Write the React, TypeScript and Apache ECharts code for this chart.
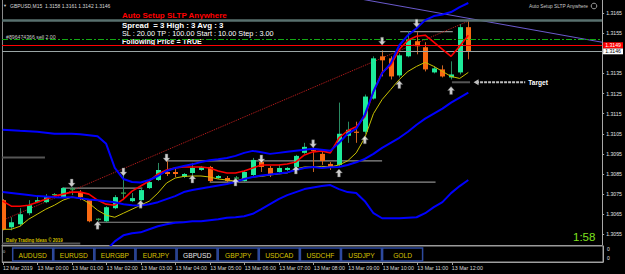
import React, { useEffect, useRef } from 'react';
import * as echarts from 'echarts';

// ---------- data ----------
const opens = [
  1.3072, 1.30585, 1.306, 1.30655, 1.3071, 1.3071, 1.30745, 1.30735, 1.30773, 1.3076,
  1.3072, 1.30623, 1.30615, 1.3068, 1.30753, 1.30715, 1.3072, 1.3078, 1.3082, 1.3086,
  1.3086, 1.30835, 1.30855, 1.3087, 1.30885, 1.3083, 1.3083, 1.30828, 1.30815, 1.30845,
  1.3091, 1.3088, 1.3086, 1.3087, 1.30885, 1.30955, 1.30975, 1.3095, 1.309, 1.30895,
  1.3104, 1.3106, 1.3106, 1.31225, 1.31435, 1.31425, 1.3134, 1.31435, 1.3151, 1.3148,
  1.31355, 1.3137, 1.3133, 1.31355, 1.3158,
];
const closes = [
  1.30575, 1.3061, 1.3065, 1.30695, 1.3072, 1.30735, 1.3075, 1.3078, 1.30777, 1.30735,
  1.30615, 1.30627, 1.30685, 1.30735, 1.30757, 1.3073, 1.3077, 1.3081, 1.3087, 1.3085,
  1.3085, 1.3085, 1.3088, 1.30885, 1.30815, 1.3084, 1.30815, 1.30832, 1.3086, 1.3092,
  1.30885, 1.3085, 1.3088, 1.3088, 1.3094, 1.30985, 1.30965, 1.30915, 1.30885, 1.3105,
  1.3107, 1.31055, 1.31235, 1.31425, 1.31415, 1.31335, 1.3144, 1.3152, 1.31485, 1.3137,
  1.31375, 1.31335, 1.31345, 1.3158, 1.3146,
];
const lows = [
  1.3057, 1.3057, 1.3059, 1.30645, 1.30705, 1.30705, 1.3074, 1.3073, 1.30745, 1.3072,
  1.3061, 1.30615, 1.3061, 1.30675, 1.3072, 1.3071, 1.30715, 1.30775, 1.30815, 1.3084,
  1.30835, 1.3083, 1.3084, 1.30865, 1.3081, 1.30825, 1.3081, 1.3082, 1.3081, 1.3084,
  1.3086, 1.30835, 1.30855, 1.30865, 1.3088, 1.3095, 1.3086, 1.30895, 1.3087, 1.30885,
  1.31005, 1.31005, 1.3105, 1.3122, 1.31335, 1.3132, 1.3133, 1.3143, 1.31445, 1.3136,
  1.3135, 1.3133, 1.3132, 1.31345, 1.3142,
];
const highs = [
  1.30725, 1.30635, 1.3068, 1.3072, 1.3074, 1.3075, 1.30755, 1.30785, 1.30785, 1.3077,
  1.30725, 1.3063, 1.3069, 1.30745, 1.30845, 1.30755, 1.3078, 1.3082, 1.30905, 1.30915,
  1.30875, 1.30855, 1.30905, 1.3089, 1.3089, 1.30845, 1.3084, 1.3084, 1.3087, 1.3093,
  1.3092, 1.3089, 1.30895, 1.30885, 1.30945, 1.31005, 1.30985, 1.3096, 1.3091, 1.31205,
  1.3111, 1.3111, 1.31245, 1.31435, 1.31465, 1.31435, 1.3145, 1.3156, 1.31555, 1.31505,
  1.31385, 1.3139, 1.3141, 1.31595, 1.3161,
];
const bbUpper = [
  1.3107, 1.31068, 1.31065, 1.31063, 1.3106, 1.31055, 1.3105, 1.3105, 1.3105, 1.31048,
  1.31043, 1.31038, 1.31, 1.3088, 1.30825, 1.3081, 1.30808, 1.3082, 1.3084, 1.30865,
  1.3088, 1.3089, 1.30898, 1.3091, 1.30918, 1.30923, 1.3093, 1.3094, 1.30955, 1.30965,
  1.30958, 1.3095, 1.30955, 1.3096, 1.30965, 1.3097, 1.30975, 1.3097, 1.30965, 1.31005,
  1.3105, 1.31075, 1.31145, 1.3126, 1.3135, 1.314, 1.3149, 1.3154, 1.31575, 1.31615,
  1.31635, 1.31643, 1.31655, 1.3168, 1.317,
];
const bbMiddle = [
  1.3076, 1.30755, 1.3075, 1.30745, 1.3074, 1.30738, 1.30735, 1.30733, 1.30735, 1.3073,
  1.30723, 1.3072, 1.30715, 1.3071, 1.307, 1.30695, 1.30693, 1.307, 1.3071, 1.30725,
  1.3074, 1.3076, 1.3077, 1.30778, 1.30785, 1.30793, 1.308, 1.3081, 1.30825, 1.30835,
  1.30843, 1.30848, 1.30853, 1.30858, 1.3087, 1.3088, 1.30885, 1.3088, 1.30883, 1.30885,
  1.30895, 1.30908, 1.30925, 1.3095, 1.3098, 1.31005, 1.3103, 1.3106, 1.31095, 1.31125,
  1.3115, 1.31175, 1.31205, 1.3123, 1.31255,
];
const bbLower = [
  1.3042, 1.3041, 1.3041, 1.3041, 1.30415, 1.3042, 1.3042, 1.3042, 1.3042, 1.30415,
  1.3041, 1.3044, 1.3047, 1.30515, 1.30545, 1.30555, 1.3056, 1.30575, 1.3059, 1.306,
  1.30608, 1.3061, 1.30615, 1.30615, 1.3062, 1.30625, 1.30633, 1.30635, 1.3064, 1.30652,
  1.30675, 1.307, 1.30725, 1.30745, 1.3076, 1.30775, 1.30783, 1.3079, 1.30795, 1.30775,
  1.3076, 1.30755, 1.30715, 1.30655, 1.3063, 1.3063, 1.3063, 1.30633, 1.30635, 1.30655,
  1.30685, 1.3071, 1.30755, 1.3079, 1.3082,
];
const maRed = [
  1.30715, 1.3069, 1.3069, 1.30695, 1.3071, 1.30725, 1.3074, 1.3075, 1.3076, 1.3076,
  1.3075, 1.3072, 1.307, 1.30695, 1.30725, 1.30765, 1.3079, 1.30815, 1.3085, 1.3087,
  1.3088, 1.30885, 1.30885, 1.30885, 1.3088, 1.30865, 1.30855, 1.30855, 1.30865, 1.3088,
  1.30895, 1.30895, 1.30895, 1.309, 1.3091, 1.30945, 1.3096, 1.30965, 1.30955, 1.3103,
  1.31065, 1.31085, 1.31135, 1.3126, 1.31355, 1.3139, 1.3147, 1.31515, 1.31535, 1.3154,
  1.31505, 1.3147, 1.31435, 1.31485, 1.3154,
];
const maYellow = [
  1.30575, 1.30575, 1.3059, 1.30625, 1.3065, 1.30675, 1.30695, 1.3072, 1.30735, 1.3073,
  1.30705, 1.3067, 1.30645, 1.30635, 1.30655, 1.30675, 1.30695, 1.30715, 1.30755, 1.30805,
  1.3083, 1.30838, 1.3084, 1.3084, 1.30835, 1.30825, 1.3082, 1.30815, 1.30828, 1.30835,
  1.30838, 1.30845, 1.3085, 1.30855, 1.30875, 1.30885, 1.30885, 1.30888, 1.30885, 1.30895,
  1.30915, 1.30955, 1.3103, 1.3115, 1.3122, 1.3127, 1.3132, 1.3136, 1.31385, 1.31405,
  1.31385, 1.3136, 1.31335, 1.31325, 1.31355,
];
const downArrows = [[8, 1.30805], [14, 1.3086], [19, 1.3093], [30, 1.30925], [36, 1.31], [44, 1.3151], [48, 1.316]];
const upArrows = [[11, 1.30595], [16, 1.307], [22, 1.30825], [27, 1.3081], [34, 1.3087], [39, 1.30855], [42, 1.3102], [46, 1.31295], [52, 1.31265]];
// [fromBar, toBar, price]
const lightSegments = [[6.9, 16.2, 1.3078], [11, 21.1, 1.3061], [19, 44, 1.30915], [24, 50.2, 1.3081], [46.1, 52.2, 1.31558]];
const darkSegments = [[-0.1, 4.9, 1.30932], [-0.1, 9.0, 1.30505], [52.1, 54.2, 1.31306]];
const redTrend = [[0, 1.3062], [54, 1.3161]];
const slateTrend = [[41.5, 1.3172], [69.52, 1.31505]];
const targetLine = [[54.9, 1.31306], [60.6, 1.31306]];
const tealLevel = 1.31615;
const greenLevel = 1.3152;
const redLevel = 1.3149;
const bidLevel = 1.3146;
const priceTicks = [1.3055, 1.3065, 1.3075, 1.3085, 1.3095, 1.3105, 1.3115, 1.3125, 1.3135, 1.3145, 1.3155, 1.3165];
const priceLabelTicks = [1.3055, 1.3065, 1.3075, 1.3085, 1.3095, 1.3105, 1.3115, 1.3125, 1.3135, 1.3155, 1.3165];
const timeTickIdx = [0, 4, 8, 12, 16, 20, 24, 28, 32, 36, 40, 44, 48, 52];
const timeTickLabels = ['12 Mar 2019', '13 Mar 00:00', '13 Mar 01:00', '13 Mar 02:00', '13 Mar 03:00', '13 Mar 04:00', '13 Mar 05:00', '13 Mar 06:00', '13 Mar 07:00', '13 Mar 08:00', '13 Mar 09:00', '13 Mar 10:00', '13 Mar 11:00', '13 Mar 12:00'];
const subTicks = [0.28, 0.81];
const buttonLabels = ['AUDUSD', 'EURUSD', 'EURGBP', 'EURJPY', 'GBPUSD', 'GBPJPY', 'USDCAD', 'USDCHF', 'USDJPY', 'GOLD'];
const activeButton = 'GBPUSD';
const symbolName = 'GBPUSD,M15';
const panelTitle = 'Auto Setup SLTP Anywhere';
const panelLines = ['Spread  = 3 High : 3 Avg : 3', 'SL : 20.00 TP : 100.00 Start : 10.00 Step : 3.00', 'Following Price = TRUE'];
const orderText = '#896474366 sell 2.00';
const watermark = 'Daily Trading Ideas © 2019';
const clockText = '1:58';
const targetText = 'Target';

const FONT = '"Liberation Sans", Arial, sans-serif';
const X_MIN = -0.081, X_MAX = 69.52;
const Y_MIN = 1.30497, Y_MAX = 1.31715;

export default function App() {
  const ref = useRef<HTMLDivElement>(null);
  useEffect(() => {
    document.body.style.margin = '0';
    document.body.style.background = '#000';
    const chart = echarts.init(ref.current!, null, { renderer: 'svg' });
    const n = opens.length;
    const candleData = opens.map((o, i) => [i, o, closes[i], lows[i], highs[i]]);
    const toXY = (arr: number[]) => arr.map((v, i) => [i, v]);
    const last = n - 1;
    const header = `${symbolName}  ${opens[last].toFixed(4)} ${highs[last].toFixed(4)} ${lows[last].toFixed(4)} ${closes[last].toFixed(4)}`;

    const upPath = 'path://M5,0L10,5L7,5L7,10L3,10L3,5L0,5Z';
    const downPath = 'path://M3,0L7,0L7,5L10,5L5,10L0,5L3,5Z';

    const lineBase = (data: any, color: string, width: number, z = 3, type: any = 'solid') => ({
      type: 'line', xAxisIndex: 0, yAxisIndex: 0, data, symbol: 'none', silent: true, z,
      lineStyle: { color, width, type }, itemStyle: { color },
    });

    const segSeries: any[] = [];
    lightSegments.forEach((s) => segSeries.push(lineBase([[s[0], s[2]], [s[1], s[2]]], '#8E8E8E', 1.2, 2)));
    darkSegments.forEach((s) => segSeries.push(lineBase([[s[0], s[2]], [s[1], s[2]]], '#555555', 2, 2)));

    const graphics: any[] = [
      { type: 'text', x: 3, y: 5.5, style: { text: '▼', fontSize: 4, fill: '#cccccc', verticalAlign: 'middle' } },
      { type: 'text', x: 10, y: 5.5, style: { text: header, fontSize: 5, fill: '#D8D8D8', fontFamily: FONT, verticalAlign: 'middle' } },
      { type: 'text', x: 122, y: 15, style: { text: panelTitle, fontSize: 8, fontWeight: 'bold', fill: '#FF0000', fontFamily: FONT, verticalAlign: 'middle' } },
      { type: 'text', x: 122, y: 25, style: { text: panelLines[0], fontSize: 7.9, fontWeight: 'bold', fill: '#FFFFFF', fontFamily: FONT, verticalAlign: 'middle' } },
      { type: 'text', x: 122, y: 33, style: { text: panelLines[1], fontSize: 7.3, fill: '#FFFFFF', fontFamily: FONT, verticalAlign: 'middle' } },
      { type: 'text', x: 122, y: 41.5, style: { text: panelLines[2], fontSize: 7.1, fontWeight: 'bold', fill: '#FFFFFF', fontFamily: FONT, verticalAlign: 'middle' } },
      { type: 'text', x: 6, y: 36.5, style: { text: orderText, fontSize: 5.2, fill: '#C8C8C8', fontFamily: FONT, verticalAlign: 'middle' } },
      { type: 'text', x: 529, y: 6, style: { text: panelTitle, fontSize: 4.8, fill: '#C8C8C8', fontFamily: FONT, verticalAlign: 'middle' } },
      { type: 'circle', shape: { cx: 594, cy: 6, r: 2.8 }, style: { fill: 'none', stroke: '#C0C0C0', lineWidth: 0.8 } },
      { type: 'text', x: 6, y: 240, style: { text: watermark, fontSize: 4.5, fontWeight: 'bold', fill: '#D4C000', fontFamily: FONT, verticalAlign: 'middle' } },
      { type: 'text', x: 573, y: 237, style: { text: clockText, fontSize: 11.5, fill: '#7FE01F', fontFamily: FONT, verticalAlign: 'middle' } },
      { type: 'text', x: 3, y: 251, style: { text: '0', fontSize: 4, fill: '#cccccc', fontFamily: FONT, verticalAlign: 'middle' } },
    ];
    buttonLabels.forEach((b, k) => {
      const bx = 12.7 + k * 41.1;
      graphics.push({ type: 'rect', shape: { x: bx, y: 248, width: 40, height: 13 }, style: { fill: '#000000', stroke: '#2E4A9E', lineWidth: 1.5 } });
      graphics.push({ type: 'text', x: bx + 20, y: 255, style: { text: b, fontSize: 6.7, fill: b === activeButton ? '#E8E8E8' : '#D6C200', fontFamily: FONT, align: 'center', verticalAlign: 'middle' } });
    });

    const priceLabel = (bg: string, fg: string) => ({
      show: true, position: 'end', distance: 1, formatter: (p: any) => Number(p.value).toFixed(4),
      backgroundColor: bg, color: fg, fontSize: 5.2, padding: [0.5, 2, 0.5, 2], fontFamily: FONT,
    });

    const option: any = {
      animation: false,
      backgroundColor: '#000000',
      grid: [
        { left: 2, right: 22, top: 0, height: 245 },
        { left: 2, right: 22, top: 246, height: 16, show: true, borderColor: '#9A9A9A', borderWidth: 1 },
      ],
      xAxis: [
        { gridIndex: 0, type: 'value', min: X_MIN, max: X_MAX, axisLine: { show: true, onZero: false, lineStyle: { color: '#9A9A9A', width: 1 } }, axisTick: { show: false }, axisLabel: { show: false }, splitLine: { show: false } },
        {
          gridIndex: 1, type: 'value', min: X_MIN, max: X_MAX,
          axisLine: { show: true, onZero: false, lineStyle: { color: '#A0A0A0' } },
          axisTick: { show: true, customValues: timeTickIdx, length: 3, lineStyle: { color: '#A0A0A0' } },
          axisLabel: { customValues: timeTickIdx, formatter: (v: number) => timeTickLabels[timeTickIdx.indexOf(Math.round(v))] || '', fontSize: 5.3, color: '#D8D8D8', align: 'left', margin: 3, fontFamily: FONT },
          splitLine: { show: false },
        },
      ],
      yAxis: [
        {
          gridIndex: 0, type: 'value', position: 'right', min: Y_MIN, max: Y_MAX,
          axisLine: { show: true, onZero: false, lineStyle: { color: '#A8A8A8' } },
          axisTick: { show: true, customValues: priceTicks, length: 2, lineStyle: { color: '#A8A8A8' } },
          axisLabel: { customValues: priceLabelTicks, formatter: (v: number) => v.toFixed(4), fontSize: 5.2, color: '#E0E0E0', margin: 4, fontFamily: FONT },
          splitLine: { show: false },
        },
        { gridIndex: 0, type: 'value', position: 'left', min: Y_MIN, max: Y_MAX, axisLine: { show: true, onZero: false, lineStyle: { color: '#8A8A8A' } }, axisTick: { show: false }, axisLabel: { show: false }, splitLine: { show: false } },
        {
          gridIndex: 1, type: 'value', position: 'right', min: 0, max: 1,
          axisLine: { show: true, onZero: false, lineStyle: { color: '#A8A8A8' } }, axisTick: { show: false },
          axisLabel: { customValues: subTicks, formatter: () => '0', fontSize: 5, color: '#E0E0E0', margin: 4, fontFamily: FONT },
          splitLine: { show: false },
        },
      ],
      series: [
        ...segSeries,
        {
          type: 'custom', xAxisIndex: 0, yAxisIndex: 0, data: candleData, encode: { x: 0, y: [1, 2, 3, 4] }, clip: true, z: 4, silent: true,
          renderItem: (params: any, api: any) => {
            const i = api.value(0);
            const o = api.value(1), c = api.value(2), l = api.value(3), h = api.value(4);
            const po = api.coord([i, o]), pc = api.coord([i, c]), pl = api.coord([i, l]), ph = api.coord([i, h]);
            const x = Math.round(po[0]) + 0.5;
            const bull = c >= o;
            const top = Math.min(po[1], pc[1]), bot = Math.max(po[1], pc[1]);
            const w = 5;
            const children: any[] = [
              { type: 'line', shape: { x1: x, y1: ph[1], x2: x, y2: pl[1] }, style: { stroke: bull ? '#2A8A62' : '#CC6422', lineWidth: 1 } },
            ];
            if (bot - top < 1.5) {
              const ym = (top + bot) / 2;
              children.push({ type: 'line', shape: { x1: x - w / 2, y1: ym, x2: x + w / 2, y2: ym }, style: { stroke: bull ? '#2FB050' : '#FA6A12', lineWidth: 1.2 } });
            } else {
              children.push({ type: 'rect', shape: { x: x - w / 2, y: top, width: w, height: bot - top }, style: { fill: bull ? '#1DEB9A' : '#FA6A12' } });
            }
            return { type: 'group', children };
          },
        },
        lineBase(redTrend, '#C41E1E', 1, 3, 'dotted'),
        lineBase(slateTrend, '#6A5ACD', 1, 3),
        lineBase(toXY(maYellow), '#C8C000', 1, 5),
        lineBase(toXY(maRed), '#FF0000', 1.6, 5),
        lineBase(toXY(bbLower), '#0000FF', 2, 6),
        lineBase(toXY(bbMiddle), '#0000FF', 2, 6),
        {
          ...lineBase(toXY(bbUpper), '#0000FF', 2, 6),
          markLine: {
            silent: true, symbol: ['none', 'none'], animation: false, precision: 6,
            data: [
              { yAxis: tealLevel, lineStyle: { color: '#58706E', width: 2.5, type: 'solid' }, label: { show: false } },
              { yAxis: greenLevel, lineStyle: { color: '#13A813', width: 1, type: [6, 2, 2, 2] }, label: { show: false } },
              { yAxis: bidLevel, lineStyle: { color: '#9AA5A5', width: 1, type: 'solid' }, label: priceLabel('#FFFFFF', '#000000') },
              { yAxis: redLevel, lineStyle: { color: '#FF0000', width: 1.2, type: 'solid' }, label: priceLabel('#FF0000', '#FFFFFF') },
            ],
          },
        },
        {
          type: 'line', xAxisIndex: 0, yAxisIndex: 0, silent: true, z: 7, symbol: 'none', showSymbol: true,
          data: [
            { value: targetLine[0], symbol: 'path://M0,5L8,0L8,10Z', symbolSize: [5, 6] },
            { value: targetLine[1], symbol: 'none' },
          ],
          lineStyle: { color: '#BDBDBD', width: 2, type: [3, 1] }, itemStyle: { color: '#BDBDBD' },
          endLabel: { show: true, formatter: targetText, color: '#FFFFFF', fontWeight: 'bold', fontSize: 6.6, distance: 3, fontFamily: FONT },
        },
        {
          type: 'scatter', xAxisIndex: 0, yAxisIndex: 0, data: upArrows, symbol: upPath, symbolSize: [7, 8], z: 10, silent: true,
          itemStyle: { color: '#FFFFFF', borderColor: '#555555', borderWidth: 0.5 },
        },
        {
          type: 'scatter', xAxisIndex: 0, yAxisIndex: 0, data: downArrows, symbol: downPath, symbolSize: [7, 8], z: 10, silent: true,
          itemStyle: { color: '#FFFFFF', borderColor: '#555555', borderWidth: 0.5 },
        },
      ],
      graphic: graphics,
    };
    chart.setOption(option);
    return () => chart.dispose();
  }, []);
  return <div ref={ref} style={{ width: 625, height: 274 }} />;
}
